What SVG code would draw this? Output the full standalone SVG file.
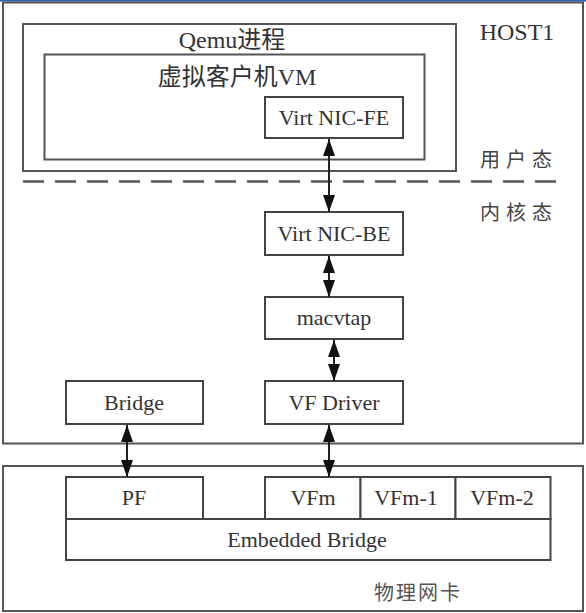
<svg xmlns="http://www.w3.org/2000/svg" width="586" height="613" viewBox="0 0 586 613">
<defs>
<style>
.box{fill:#fff;stroke:#444;stroke-width:2}
.frame{fill:none;stroke:#555;stroke-width:2}
.t{font-family:"Liberation Serif","Noto Sans CJK SC",serif;font-size:22px;fill:#333;text-anchor:middle}
.big{font-size:24px}
.cjk{font-family:"Noto Sans CJK SC","Liberation Serif",serif;font-size:20px;fill:#444;letter-spacing:6px}
.conn{stroke:#222;stroke-width:2;fill:none;marker-start:url(#ah);marker-end:url(#ah)}
</style>
<marker id="ah" viewBox="0 0 17 12" refX="17" refY="6" markerWidth="17" markerHeight="12" markerUnits="userSpaceOnUse" orient="auto-start-reverse">
<path d="M0,0 L17,6 L0,12 Z" fill="#111"/>
</marker>
</defs>
<rect x="0" y="0" width="586" height="613" fill="#fff"/>
<rect x="0" y="0" width="586" height="1.6" fill="#2f63b8"/>
<g id="host1">
<rect class="frame" x="3" y="2.5" width="580" height="441"/>
<text class="t big" x="517" y="40">HOST1</text>
<text class="cjk" x="480" y="167">用户态</text>
<text class="cjk" x="480" y="220">内核态</text>
<line x1="23" y1="181.5" x2="559" y2="181.5" stroke="#555" stroke-width="2.5" stroke-dasharray="21,11"/>
</g>
<g id="qemu">
<rect class="frame" x="23" y="24" width="433" height="147"/>
<text class="t big" x="232" y="48">Qemu进程</text>
</g>
<g id="vm">
<rect class="frame" x="44.5" y="54.5" width="380" height="105"/>
<text class="t big" x="237" y="85">虚拟客户机VM</text>
</g>
<g id="nic-fe">
<rect class="box" x="265" y="97" width="138" height="41"/>
<text class="t" x="334" y="125">Virt NIC-FE</text>
</g>
<g id="nic-be">
<rect class="box" x="265" y="212" width="138" height="43"/>
<text class="t" x="334" y="241">Virt NIC-BE</text>
</g>
<g id="macvtap">
<rect class="box" x="265" y="297" width="138" height="42"/>
<text class="t" x="334" y="325">macvtap</text>
</g>
<g id="bridge">
<rect class="box" x="66" y="381" width="137" height="43"/>
<text class="t" x="134" y="410">Bridge</text>
</g>
<g id="vf-driver">
<rect class="box" x="265" y="381" width="138" height="43"/>
<text class="t" x="334" y="410">VF Driver</text>
</g>
<g id="nic">
<rect class="frame" x="3" y="466" width="580" height="145"/>
<text class="cjk" x="374" y="600" style="letter-spacing:2px;fill:#555">物理网卡</text>
</g>
<g id="pf">
<rect class="box" x="66" y="477" width="137" height="42"/>
<text class="t" x="134" y="505">PF</text>
</g>
<g id="vfm">
<rect class="box" x="265" y="477" width="95.5" height="42"/>
<text class="t" x="313" y="505">VFm</text>
</g>
<g id="vfm-1">
<rect class="box" x="360.5" y="477" width="95" height="42"/>
<text class="t" x="406" y="505">VFm-1</text>
</g>
<g id="vfm-2">
<rect class="box" x="455.5" y="477" width="95" height="42"/>
<text class="t" x="502" y="505">VFm-2</text>
</g>
<g id="embedded-bridge">
<rect class="box" x="66" y="519" width="484.5" height="41"/>
<text class="t" x="307" y="547">Embedded Bridge</text>
</g>
<g id="connectors">
<line class="conn" x1="329" y1="139" x2="329" y2="212"/>
<line class="conn" x1="329" y1="256" x2="329" y2="297"/>
<line class="conn" x1="334" y1="340" x2="334" y2="381"/>
<line class="conn" x1="329" y1="425" x2="329" y2="477"/>
<line class="conn" x1="127" y1="425" x2="127" y2="477"/>
</g>
</svg>
